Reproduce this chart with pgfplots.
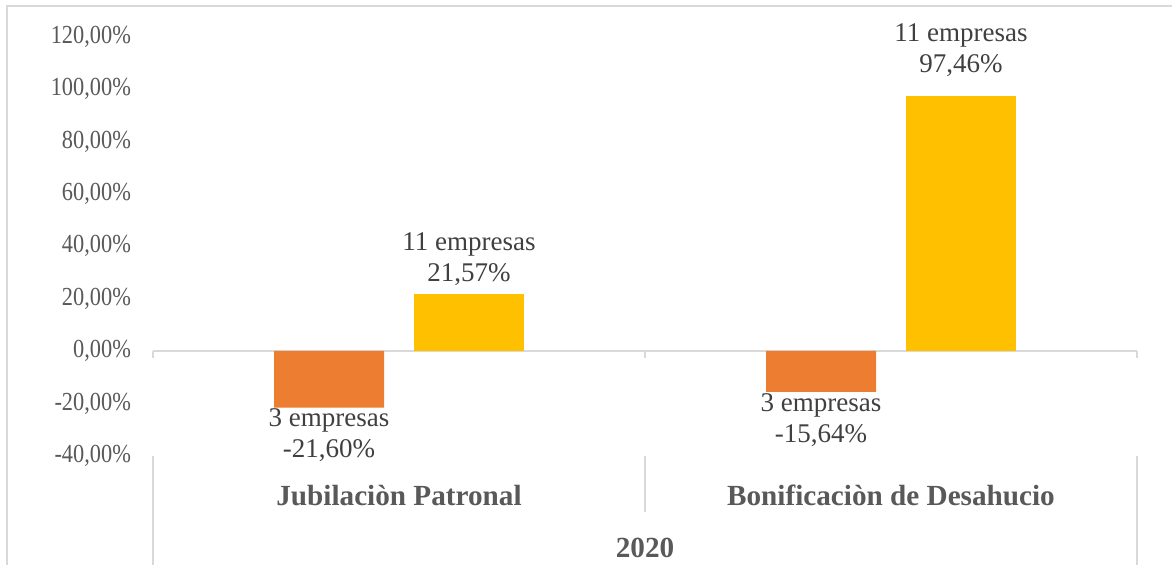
\documentclass[border=0pt]{standalone}
\usepackage{fontspec}
\setmainfont{Liberation Serif}
\usepackage{graphicx}
\usepackage{pgfplots}
\pgfplotsset{compat=1.18}
\definecolor{cOrange}{HTML}{ED7D31}
\definecolor{cYellow}{HTML}{FFC000}
\definecolor{cText}{HTML}{595959}
\definecolor{cData}{HTML}{404040}
\definecolor{cLine}{HTML}{D9D9D9}
\newcommand{\sq}[1]{\scalebox{0.86}[1]{#1}}
\begin{document}
\begin{tikzpicture}
\path[use as bounding box] (0,0) rectangle (586pt,-282.5pt);
\draw[cLine, line width=0.7pt] (3.5pt,-290pt) -- (3.5pt,-3pt) -- (590pt,-3pt);
\draw[cLine, line width=1pt] (76.5pt,-227.9pt) -- (76.5pt,-290pt);
\draw[cLine, line width=1pt] (568.5pt,-227.9pt) -- (568.5pt,-290pt);
\draw[cLine, line width=1pt] (322.5pt,-227.9pt) -- (322.5pt,-256pt);
\begin{axis}[
  at={(76.5pt,-227.9pt)}, anchor=south west,
  scale only axis, width=492pt, height=209.6pt,
  xmin=-0.5, xmax=1.5, ymin=-40, ymax=120,
  axis line style={draw=none},
  major tick length=0pt,
  ytick={-40,-20,...,120},
  yticklabels={\sq{-40,00\%},\sq{-20,00\%},\sq{0,00\%},\sq{20,00\%},\sq{40,00\%},\sq{60,00\%},\sq{80,00\%},\sq{100,00\%},\sq{120,00\%}},
  yticklabel style={font=\fontsize{13}{15}\selectfont, text=cText, anchor=east, xshift=-7.5pt},
  xtick={0,1},
  xticklabels={Jubilaciòn Patronal, Bonificaciòn de Desahucio},
  xticklabel style={font=\bfseries\fontsize{14.6}{16}\selectfont, text=cText, anchor=center, yshift=-19.7pt},
  xlabel={2020},
  xlabel style={font=\bfseries\fontsize{14.6}{16}\selectfont, text=cText, at={(axis description cs:0.5,0)}, anchor=center, yshift=-46.1pt},
  ybar, bar width=55pt,
  nodes near coords, point meta=explicit symbolic,
  every node near coord/.append style={font=\fontsize{13.5}{15.5}\selectfont, text=cData, align=center},
  clip=false,
]
\draw[cLine, line width=1pt] (axis cs:-0.5,0) -- (axis cs:1.5,0);
\draw[cLine, line width=1pt] (axis cs:-0.5,0) -- ([yshift=-3.5pt]axis cs:-0.5,0);
\draw[cLine, line width=1pt] (axis cs:0.5,0) -- ([yshift=-3.5pt]axis cs:0.5,0);
\draw[cLine, line width=1pt] (axis cs:1.5,0) -- ([yshift=-3.5pt]axis cs:1.5,0);
\addplot[fill=cOrange, draw=none, bar shift=-35pt,
  every node near coord/.append style={anchor=north, inner sep=0pt, yshift=-0.5pt}]
  coordinates {(0,-21.60) [3 empresas\\-21,60\%] (1,-15.64) [3 empresas\\-15,64\%]};
\addplot[fill=cYellow, draw=none, bar shift=35pt,
  every node near coord/.append style={anchor=south, inner sep=4pt}]
  coordinates {(0,21.57) [11 empresas\\21,57\%]};
\addplot[fill=cYellow, draw=none, bar shift=35pt,
  every node near coord/.append style={anchor=south, inner sep=4pt, yshift=5.5pt}]
  coordinates {(1,97.46) [11 empresas\\97,46\%]};
\end{axis}
\end{tikzpicture}
\end{document}
